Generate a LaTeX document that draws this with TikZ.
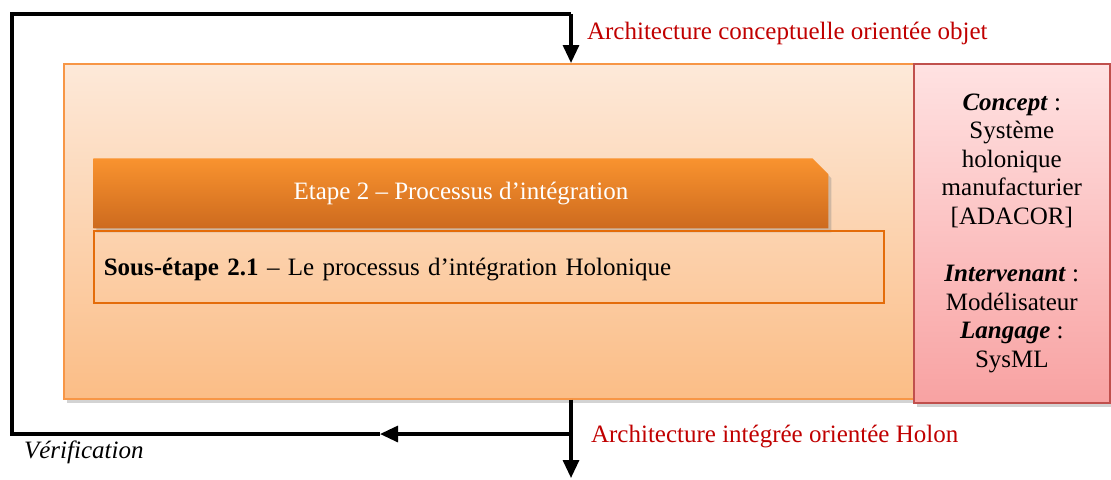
\documentclass[tikz,border=0pt]{standalone}
\usepackage{fontspec}
\setmainfont{Liberation Serif}
\usepackage{tikz}
\usetikzlibrary{shapes.misc, arrows.meta, shadows}
\definecolor{phaseTop}{HTML}{FDE9D9}
\definecolor{phaseBot}{HTML}{FBBD86}
\definecolor{phaseLine}{HTML}{F79646}
\definecolor{infoTop}{HTML}{FFE2E2}
\definecolor{infoBot}{HTML}{F8A2A2}
\definecolor{infoLine}{HTML}{C0504D}
\definecolor{headTop}{HTML}{F9932F}
\definecolor{headBot}{HTML}{CD6A1E}
\definecolor{subLine}{HTML}{E46C0A}
\definecolor{flowRed}{HTML}{C00000}
\tikzstyle{arrow} = [line width=1.6pt,-{Triangle[width=8pt,length=9pt]}]
\tikzstyle{line} = [line width=1.6pt]
\tikzstyle{phasebox} = [draw=phaseLine, line width=0.8pt, top color=phaseTop, bottom color=phaseBot, anchor=north west, drop shadow={opacity=0.35,shadow xshift=1.5pt,shadow yshift=-2pt}]
\tikzstyle{infobox} = [draw=infoLine, line width=0.8pt, top color=infoTop, bottom color=infoBot, anchor=north west, align=center, font=\fontsize{12.5}{14.3}\selectfont, drop shadow={opacity=0.35,shadow xshift=1.5pt,shadow yshift=-2pt}]
\tikzstyle{headbox} = [chamfered rectangle, chamfered rectangle corners=north east, chamfered rectangle xsep=4pt, chamfered rectangle ysep=4pt, top color=headTop, bottom color=headBot, text=white, anchor=north west, inner sep=0pt, drop shadow={opacity=0.35,shadow xshift=1.5pt,shadow yshift=-2pt}]
\tikzstyle{subbox} = [draw=subLine, line width=0.8pt, anchor=north west, text width=385pt, align=left, inner xsep=5pt, text depth=0pt]
\tikzstyle{flow} = [text=flowRed, anchor=west]

\begin{document}
\begin{tikzpicture}[x=0.5pt,y=-0.5pt,font=\fontsize{12.5}{14}\selectfont]
  \useasboundingbox (0,0) rectangle (1111,479);
  \node[phasebox, minimum width=425pt, minimum height=167.5pt] (phase) at (63,63) {};
  \node[infobox, minimum width=98pt, minimum height=169.5pt] (info) at (913,63)
    {\textbf{\textit{Concept}} :\\ Système\\ holonique\\ manufacturier\\ {[ADACOR]}\\[14.3pt]
     \textbf{\textit{Intervenant}} :\\ Modélisateur\\ \textbf{\textit{Langage}} :\\ SysML};
  \node[headbox, minimum width=367.5pt, minimum height=35pt] (etape) at (93,158) {Etape 2 – Processus d’intégration};
  \node[subbox, minimum height=36pt] (sousetape) at (93,230) {\textbf{Sous-étape 2.1} – Le processus d’intégration Holonique};
  % flux et boucle de verification
  \coordinate (top) at (571,14);
  \coordinate (split) at (571,434);
  \coordinate (out) at (571,478);
  \coordinate (mid) at (380,434);
  \coordinate (corner) at (12,434);
  \draw[arrow] (top) -- (top |- phase.north);
  \draw[arrow] (split |- phase.south) -- (out);
  \draw[arrow] (split) -- (mid);
  \draw[line] (mid) -- (corner) -- (12,14) -- (top);
  \node[flow] (archin) at (580,33) {Architecture conceptuelle orientée objet};
  \node[flow] (archout) at (584,436) {Architecture intégrée orientée Holon};
  \node[anchor=west] (verif) at (17,452) {\textit{Vérification}};
\end{tikzpicture}
\end{document}
